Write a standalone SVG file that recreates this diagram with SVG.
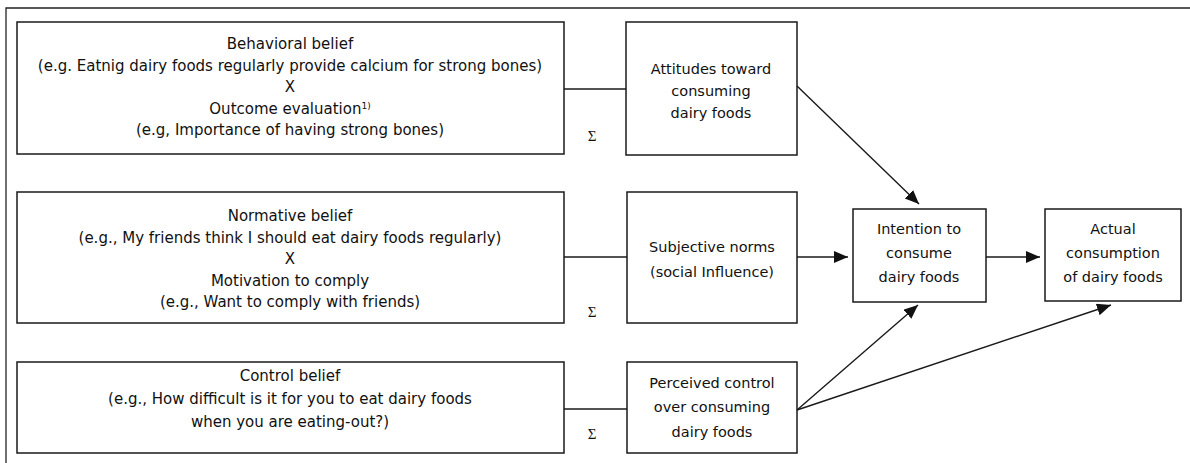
<svg xmlns="http://www.w3.org/2000/svg" width="1190" height="463" viewBox="0 0 1190 463">
<style>
.box{fill:#fff;stroke:#1a1a1a;stroke-width:1.5}
.t{font-family:"DejaVu Sans",sans-serif;font-size:14.5px;fill:#111;text-anchor:middle}
.tb{font-family:"DejaVu Sans",sans-serif;font-size:15px;fill:#111;text-anchor:middle}
.sig{font-family:"Liberation Serif",serif;font-size:15px;fill:#111;text-anchor:middle}
.ln{stroke:#1a1a1a;stroke-width:1.4;fill:none}
.frame{stroke:#222;stroke-width:1.3;fill:none}
</style>
<defs>
<marker id="ah" markerUnits="userSpaceOnUse" markerWidth="15" markerHeight="13" refX="14" refY="6" orient="auto">
<path d="M0,0 L14,6 L0,12 z" fill="#111"/>
</marker>
</defs>
<rect width="1190" height="463" fill="#fff"/>
<path class="frame" d="M6,463 L6,8 L1190,8"/>

<g id="behavioral">
<rect class="box" x="17" y="22" width="547" height="132"/>
<text class="tb" x="290" y="49">Behavioral belief</text>
<text class="tb" x="290" y="70.5">(e.g. Eatnig dairy foods regularly provide calcium for strong bones)</text>
<text class="tb" x="290" y="92">X</text>
<text class="tb" x="290" y="113.5">Outcome evaluation<tspan font-size="9" dy="-5">1)</tspan></text>
<text class="tb" x="290" y="135" dy="0">(e.g, Importance of having strong bones)</text>
<text class="sig" x="592" y="141">Σ</text>
</g>

<g id="normative">
<rect class="box" x="17" y="192" width="547" height="131"/>
<text class="tb" x="290" y="221">Normative belief</text>
<text class="tb" x="290" y="242.5">(e.g., My friends think I should eat dairy foods regularly)</text>
<text class="tb" x="290" y="264">X</text>
<text class="tb" x="290" y="285.5">Motivation to comply</text>
<text class="tb" x="290" y="307">(e.g., Want to comply with friends)</text>
<text class="sig" x="592" y="317">Σ</text>
</g>

<g id="control">
<rect class="box" x="17" y="362" width="547" height="91"/>
<text class="tb" x="290" y="381">Control belief</text>
<text class="tb" x="290" y="404">(e.g., How difficult is it for you to eat dairy foods</text>
<text class="tb" x="290" y="427">when you are eating-out?)</text>
<text class="sig" x="592" y="439">Σ</text>
</g>

<g id="attitudes">
<rect class="box" x="626" y="22" width="171" height="133"/>
<text class="t" x="711" y="74">Attitudes toward</text>
<text class="t" x="711" y="96">consuming</text>
<text class="t" x="711" y="118">dairy foods</text>
</g>

<g id="subjective">
<rect class="box" x="627" y="192" width="170" height="131"/>
<text class="t" x="712" y="252">Subjective norms</text>
<text class="t" x="712" y="277">(social Influence)</text>
</g>

<g id="perceived">
<rect class="box" x="627" y="362" width="170" height="91"/>
<text class="t" x="712" y="388">Perceived control</text>
<text class="t" x="712" y="412">over consuming</text>
<text class="t" x="712" y="437">dairy foods</text>
</g>

<g id="intention">
<rect class="box" x="853" y="209" width="133" height="93"/>
<text class="t" x="919" y="234">Intention to</text>
<text class="t" x="919" y="258">consume</text>
<text class="t" x="919" y="282">dairy foods</text>
</g>

<g id="actual">
<rect class="box" x="1045" y="209" width="136" height="92"/>
<text class="t" x="1113" y="234">Actual</text>
<text class="t" x="1113" y="258">consumption</text>
<text class="t" x="1113" y="282">of dairy foods</text>
</g>

<g id="connectors">
<line class="ln" x1="564" y1="89" x2="626" y2="89"/>
<line class="ln" x1="564" y1="257" x2="627" y2="257"/>
<line class="ln" x1="564" y1="409" x2="627" y2="409"/>
<line class="ln" x1="797" y1="86" x2="919" y2="204" marker-end="url(#ah)"/>
<line class="ln" x1="797" y1="257" x2="848" y2="257" marker-end="url(#ah)"/>
<line class="ln" x1="986" y1="257" x2="1040" y2="257" marker-end="url(#ah)"/>
<line class="ln" x1="797" y1="410" x2="918" y2="305" marker-end="url(#ah)"/>
<line class="ln" x1="797" y1="410" x2="1111" y2="305" marker-end="url(#ah)"/>
</g>
</svg>
